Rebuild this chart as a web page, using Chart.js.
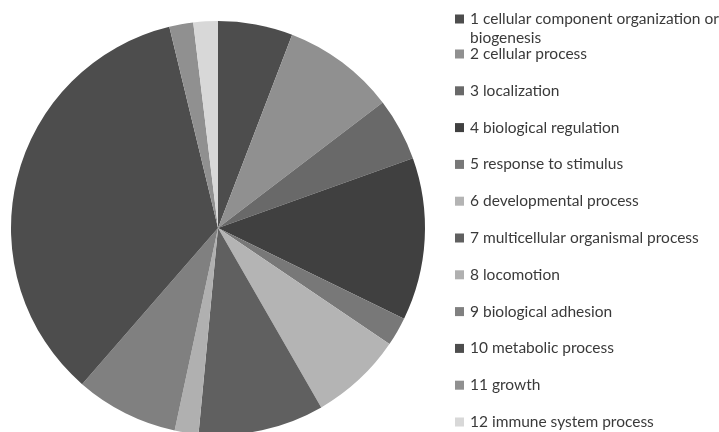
<!DOCTYPE html>
<html>
<head>
<meta charset="utf-8">
<script src="https://cdn.jsdelivr.net/npm/chart.js@4"></script>
<style>
  html, body { margin: 0; padding: 0; background: #fff; overflow: hidden; }
  #wrap { width: 719px; height: 440px; position: relative; }
</style>
</head>
<body>
<div id="wrap"><canvas id="pie"></canvas></div>
<script>
const categories = [
  "1 cellular component organization or biogenesis",
  "2 cellular process",
  "3 localization",
  "4 biological regulation",
  "5 response to stimulus",
  "6 developmental process",
  "7 multicellular organismal process",
  "8 locomotion",
  "9 biological adhesion",
  "10 metabolic process",
  "11 growth",
  "12 immune system process"
];
const shares = [5.83, 8.81, 4.89, 12.69, 2.25, 7.22, 9.81, 1.86, 8.04, 34.82, 1.87, 1.91];

const greys = ["#4d4d4d", "#909090", "#696969", "#404040", "#787878", "#b4b4b4",
               "#606060", "#b0b0b0", "#808080", "#4d4d4d", "#909090", "#d8d8d8"];

const FONT = "15.5px Lato";

function wrapText(ctx, text, maxW) {
  const words = text.split(" ");
  const lines = [];
  let cur = "";
  words.forEach((w) => {
    const test = cur ? cur + " " + w : w;
    if (ctx.measureText(test).width > maxW && cur) {
      lines.push(cur);
      cur = w;
    } else {
      cur = test;
    }
  });
  if (cur) lines.push(cur);
  return lines;
}

// side legend drawn by hand, Excel style
const sideLegend = {
  id: "sideLegend",
  afterDraw(chart) {
    const { ctx } = chart;
    const labels = chart.data.labels;
    const colors = chart.data.datasets[0].backgroundColor;
    const boxX = 455, textX = 470, maxW = 249;
    ctx.save();
    ctx.font = FONT;
    ctx.textBaseline = "middle";
    let y = 19;
    labels.forEach((lab, i) => {
      const lines = wrapText(ctx, lab, maxW);
      ctx.fillStyle = colors[i];
      ctx.fillRect(boxX, y - 4.5, 9, 9);
      ctx.fillStyle = "#3a3a3a";
      lines.forEach((ln, k) => ctx.fillText(ln, textX, y + k * 18.5));
      y += lines.length > 1 ? 35 : 36.8;
    });
    ctx.restore();
  }
};

new Chart(document.getElementById("pie"), {
  type: "pie",
  data: {
    labels: categories,
    datasets: [{
      data: shares,
      backgroundColor: greys,
      borderWidth: 0
    }]
  },
  options: {
    responsive: true,
    maintainAspectRatio: false,
    animation: false,
    layout: { padding: { left: 11, top: 21, right: 294, bottom: 5 } },
    plugins: { legend: { display: false }, tooltip: { enabled: false } }
  },
  plugins: [sideLegend]
});
</script>
</body>
</html>
